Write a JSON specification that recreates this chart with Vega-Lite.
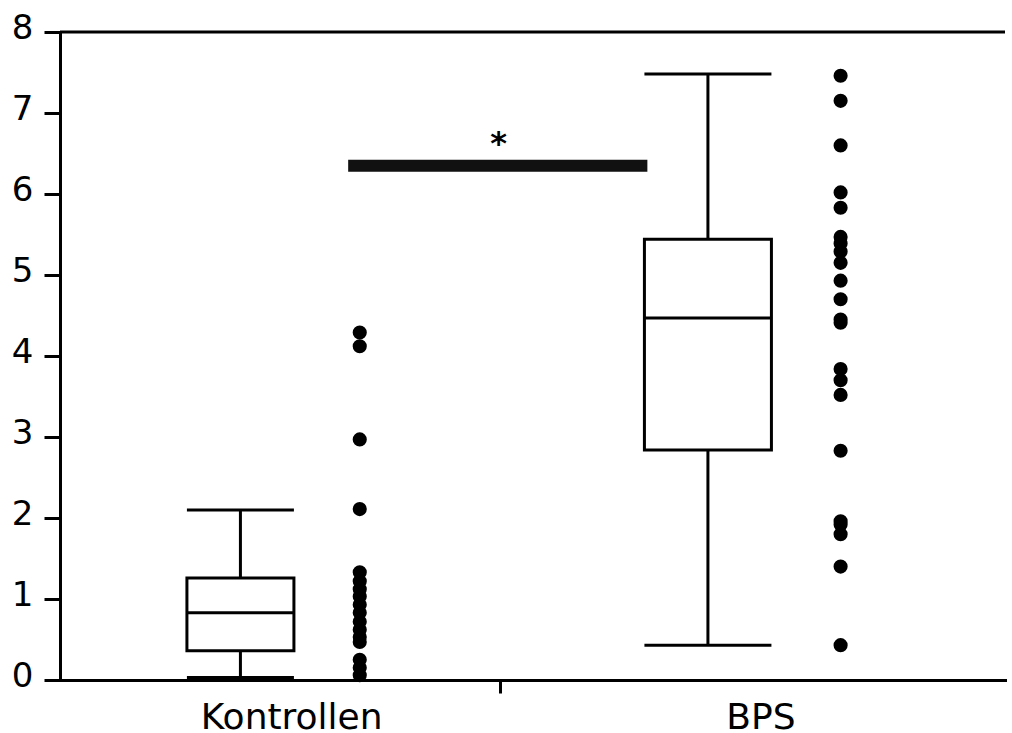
{
  "$schema": "https://vega.github.io/schema/vega-lite/v6.json",
  "width": 945,
  "height": 648,
  "autosize": {"type": "none"},
  "padding": {"left": 60, "top": 32, "right": 7, "bottom": 53},
  "background": "white",
  "config": {"view": {"stroke": null}, "font": "DejaVu Sans"},
  "datasets": {
    "boxes": [
      {"group": "Kontrollen", "pos": 1.97, "lower": 0.03, "q1": 0.36, "median": 0.83, "q3": 1.26, "upper": 2.1},
      {"group": "BPS", "pos": 7.22, "lower": 0.43, "q1": 2.84, "median": 4.47, "q3": 5.44, "upper": 7.48}
    ],
    "points": [
      {"group": "Kontrollen", "pos": 3.31, "value": 4.29},
      {"group": "Kontrollen", "pos": 3.31, "value": 4.12},
      {"group": "Kontrollen", "pos": 3.31, "value": 2.97},
      {"group": "Kontrollen", "pos": 3.31, "value": 2.11},
      {"group": "Kontrollen", "pos": 3.31, "value": 1.33},
      {"group": "Kontrollen", "pos": 3.31, "value": 1.22},
      {"group": "Kontrollen", "pos": 3.31, "value": 1.12},
      {"group": "Kontrollen", "pos": 3.31, "value": 1.03},
      {"group": "Kontrollen", "pos": 3.31, "value": 0.93},
      {"group": "Kontrollen", "pos": 3.31, "value": 0.83},
      {"group": "Kontrollen", "pos": 3.31, "value": 0.72},
      {"group": "Kontrollen", "pos": 3.31, "value": 0.62},
      {"group": "Kontrollen", "pos": 3.31, "value": 0.53},
      {"group": "Kontrollen", "pos": 3.31, "value": 0.47},
      {"group": "Kontrollen", "pos": 3.31, "value": 0.25},
      {"group": "Kontrollen", "pos": 3.31, "value": 0.15},
      {"group": "Kontrollen", "pos": 3.31, "value": 0.06},
      {"group": "BPS", "pos": 8.71, "value": 7.46},
      {"group": "BPS", "pos": 8.71, "value": 7.15},
      {"group": "BPS", "pos": 8.71, "value": 6.6},
      {"group": "BPS", "pos": 8.71, "value": 6.02},
      {"group": "BPS", "pos": 8.71, "value": 5.83},
      {"group": "BPS", "pos": 8.71, "value": 5.47},
      {"group": "BPS", "pos": 8.71, "value": 5.39},
      {"group": "BPS", "pos": 8.71, "value": 5.29},
      {"group": "BPS", "pos": 8.71, "value": 5.15},
      {"group": "BPS", "pos": 8.71, "value": 4.93},
      {"group": "BPS", "pos": 8.71, "value": 4.7},
      {"group": "BPS", "pos": 8.71, "value": 4.45},
      {"group": "BPS", "pos": 8.71, "value": 4.41},
      {"group": "BPS", "pos": 8.71, "value": 3.84},
      {"group": "BPS", "pos": 8.71, "value": 3.7},
      {"group": "BPS", "pos": 8.71, "value": 3.52},
      {"group": "BPS", "pos": 8.71, "value": 2.83},
      {"group": "BPS", "pos": 8.71, "value": 1.96},
      {"group": "BPS", "pos": 8.71, "value": 1.92},
      {"group": "BPS", "pos": 8.71, "value": 1.8},
      {"group": "BPS", "pos": 8.71, "value": 1.4},
      {"group": "BPS", "pos": 8.71, "value": 0.43}
    ],
    "sig": [
      {"from": 3.18, "to": 6.54, "y": 6.35, "label": "*", "mid": 4.87, "labelY": 6.5}
    ]
  },
  "layer": [
    {
      "data": {"values": [{}]},
      "mark": {"type": "rule", "strokeWidth": 3, "color": "black"},
      "encoding": {"y": {"datum": 8, "type": "quantitative", "scale": {"domain": [0, 8], "nice": false}}}
    },
    {
      "data": {"name": "boxes"},
      "mark": {"type": "rule", "strokeWidth": 3, "color": "black"},
      "encoding": {
        "x": {"field": "pos", "type": "quantitative", "scale": {"domain": [0, 10.5], "nice": false, "zero": false},
          "axis": {
            "values": [2.54, 4.89, 7.81], "title": null, "grid": false,
            "domainWidth": 3, "domainColor": "black", "domainCap": "square",
            "tickWidth": 3, "tickColor": "black", "tickSize": 13,
            "tickOpacity": {"condition": {"test": "datum.value > 4 && datum.value < 6", "value": 1}, "value": 0},
            "labelExpr": "datum.value < 3 ? 'Kontrollen' : (datum.value > 6 ? 'BPS' : '')",
            "labelFont": "DejaVu Sans", "labelFontSize": 36, "labelColor": "black", "labelLimit": 0,
            "labelBaseline": "alphabetic", "labelPadding": 35, "labelAngle": 0,
            "labelFlush": false, "labelOverlap": false, "labelBound": false
          }},
        "y": {"field": "lower", "type": "quantitative", "scale": {"domain": [0, 8], "nice": false},
          "axis": {
            "values": [0, 1, 2, 3, 4, 5, 6, 7, 8], "format": "d", "title": null, "grid": false,
            "domainWidth": 3, "domainColor": "black", "domainCap": "square",
            "tickWidth": 3, "tickColor": "black", "tickSize": 16,
            "labelFont": "DejaVu Sans", "labelFontSize": 34, "labelColor": "black", "labelLimit": 0,
            "labelPadding": 11, "labelBaseline": "alphabetic", "labelOffset": 6,
            "labelFlush": false, "labelOverlap": false, "labelBound": false
          }},
        "y2": {"field": "upper"}
      }
    },
    {
      "data": {"name": "boxes"},
      "mark": {"type": "bar", "fill": "white", "stroke": "black", "strokeWidth": 3, "opacity": 1},
      "encoding": {
        "x": {"field": "pos", "type": "quantitative"},
        "y": {"field": "q1", "type": "quantitative"},
        "y2": {"field": "q3"},
        "size": {"field": "group", "type": "nominal", "scale": {"domain": ["Kontrollen", "BPS"], "range": [107, 127]}, "legend": null}
      }
    },
    {
      "data": {"name": "boxes"},
      "transform": [{"fold": ["lower", "upper", "median"], "as": ["stat", "v"]}],
      "mark": {"type": "tick", "orient": "horizontal", "thickness": 3, "color": "black", "opacity": 1},
      "encoding": {
        "x": {"field": "pos", "type": "quantitative"},
        "y": {"field": "v", "type": "quantitative"},
        "size": {"field": "group", "type": "nominal", "scale": {"domain": ["Kontrollen", "BPS"], "range": [107, 128]}, "legend": null}
      }
    },
    {
      "data": {"name": "points"},
      "mark": {"type": "circle", "size": 200, "color": "black", "opacity": 1},
      "encoding": {
        "x": {"field": "pos", "type": "quantitative"},
        "y": {"field": "value", "type": "quantitative"}
      }
    },
    {
      "data": {"name": "sig"},
      "mark": {"type": "rule", "strokeWidth": 12, "strokeCap": "butt", "color": "#111111"},
      "encoding": {
        "x": {"field": "from", "type": "quantitative"},
        "x2": {"field": "to"},
        "y": {"field": "y", "type": "quantitative"}
      }
    },
    {
      "data": {"name": "sig"},
      "mark": {"type": "text", "fontSize": 32, "fontWeight": "bold", "font": "DejaVu Sans", "baseline": "alphabetic", "align": "center", "color": "black"},
      "encoding": {
        "x": {"field": "mid", "type": "quantitative"},
        "y": {"field": "labelY", "type": "quantitative"},
        "text": {"field": "label"}
      }
    }
  ]
}
